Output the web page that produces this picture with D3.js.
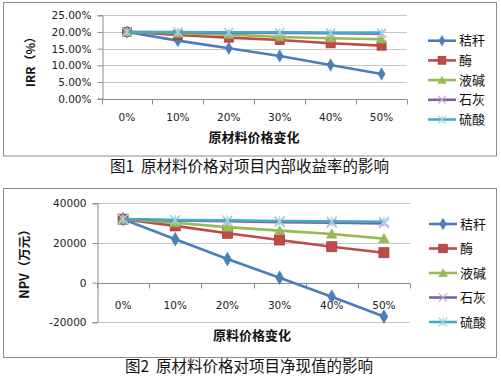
<!DOCTYPE html>
<html><head><meta charset="utf-8">
<script src="https://cdn.jsdelivr.net/npm/d3@7"></script>
<style>body{margin:0;background:#fff}svg{display:block}</style>
</head><body>
<script>
const categories = ["0%","10%","20%","30%","40%","50%"];
const seriesNames = ["秸秆","酶","液碱","石灰","硫酸"];
const irrStraw = [20.0, 17.4, 15.1, 12.8, 10.1, 7.4];
const irrEnzyme = [20.0, 19.1, 18.3, 17.6, 16.6, 15.9];
const irrLye = [20.0, 19.6, 19.2, 18.5, 18.1, 17.8];
const irrLime = [20.0, 19.9, 19.8, 19.7, 19.6, 19.5];
const irrAcid = [20.0, 20.0, 19.9, 19.9, 19.8, 19.8];
const npvStraw = [32000, 21900, 11900, 2500, -7100, -17100];
const npvEnzyme = [32000, 28600, 24900, 21500, 18100, 15100];
const npvLye = [32000, 30200, 28000, 26200, 24500, 22200];
const npvLime = [32000, 31400, 31000, 30500, 30200, 29900];
const npvAcid = [32000, 31600, 31400, 31100, 30900, 30700];
const irrTicks = [0, 5, 10, 15, 20, 25];
const npvTicks = [-20000, 0, 20000, 40000];
const colors = ["#4a7ebb", "#be4b48", "#98b954", "#7d60a0", "#46aac5"];
const markerColors = ["#4a7ebb", "#be4b48", "#98b954", "#b9a6d6", "#9ed5e6"];
const markers = ["diamond", "square", "triangle", "x", "star"];

const W = 501, H = 378;
const svg = d3.select("body").append("svg").attr("width", W).attr("height", H);
const CJK = "'Noto Sans CJK SC', 'Noto Sans', sans-serif";
const NUM = "'DejaVu Sans', sans-serif";

function drawMarker(g, type, x, y, i, s) {
  const c = markerColors[i];
  if (type === "diamond") {
    g.append("path").attr("d", d3.symbol(d3.symbolDiamond, s*s*0.55)())
      .attr("transform", `translate(${x},${y})`).attr("fill", c).attr("stroke", c).attr("stroke-width", 0.5);
  } else if (type === "square") {
    const r = s*0.5;
    g.append("rect").attr("x", x-r).attr("y", y-r).attr("width", 2*r).attr("height", 2*r)
      .attr("fill", "#be4b48").attr("stroke", "#a03c3a").attr("stroke-width", 0.8);
  } else if (type === "triangle") {
    g.append("path").attr("d", d3.symbol(d3.symbolTriangle, s*s*0.5)())
      .attr("transform", `translate(${x},${y+1})`).attr("fill", c).attr("stroke", c).attr("stroke-width", 0.5);
  } else if (type === "x") {
    const r = s*0.48;
    g.append("path").attr("d", `M${x-r},${y-r}L${x+r},${y+r}M${x-r},${y+r}L${x+r},${y-r}`)
      .attr("stroke", c).attr("stroke-width", 1.2).attr("fill", "none");
  } else {
    const r = s*0.5;
    g.append("path").attr("d", `M${x-r},${y-r}L${x+r},${y+r}M${x-r},${y+r}L${x+r},${y-r}M${x},${y-r}L${x},${y+r}`)
      .attr("stroke", c).attr("stroke-width", 1.2).attr("fill", "none");
  }
}

function chart(cfg) {
  const g = svg.append("g");
  g.append("rect").attr("x", cfg.frame[0]).attr("y", cfg.frame[1]).attr("width", cfg.frame[2]).attr("height", cfg.frame[3])
    .attr("fill", "#fff").attr("stroke", "#8c8c8c").attr("stroke-width", 1);
  const x = d3.scaleBand().domain(categories).range([cfg.left, cfg.right]).paddingInner(0).paddingOuter(0);
  const y = d3.scaleLinear().domain(cfg.domain).range([cfg.bottom, cfg.top]);
  g.selectAll(".grid").data(cfg.ticks).join("line")
    .attr("x1", cfg.left).attr("x2", cfg.right)
    .attr("y1", d => Math.round(y(d))+0.5).attr("y2", d => Math.round(y(d))+0.5)
    .attr("stroke", "#c6c6c6").attr("stroke-width", 1);
  const yAxis = d3.axisLeft(y).tickValues(cfg.ticks).tickSize(5).tickPadding(6).tickFormat(cfg.fmt);
  const ya = g.append("g").attr("transform", `translate(${Math.round(cfg.left)+0.5},0)`).call(yAxis);
  ya.select(".domain").attr("stroke", "#8c8c8c");
  ya.selectAll(".tick line").attr("stroke", "#8c8c8c");
  ya.selectAll(".tick text").attr("font-family", NUM).attr("font-size", cfg.tickFs).attr("fill", "#222");
  const y0 = Math.round(y(0))+0.5;
  g.append("line").attr("x1", cfg.left).attr("x2", cfg.right).attr("y1", y0).attr("y2", y0).attr("stroke", "#8c8c8c");
  const bounds = categories.map(c => x(c)).concat([cfg.right]);
  g.selectAll(".xt").data(bounds).join("line")
    .attr("x1", d => Math.round(d)+0.5).attr("x2", d => Math.round(d)+0.5)
    .attr("y1", y0).attr("y2", y0+5).attr("stroke", "#8c8c8c");
  g.selectAll(".xl").data(categories).join("text")
    .attr("x", d => x(d)+x.bandwidth()/2).attr("y", cfg.catY).attr("dy", "0.35em")
    .attr("text-anchor", "middle").attr("font-family", NUM).attr("font-size", cfg.tickFs).attr("fill", "#222")
    .text(d => d);
  cfg.series.forEach((vals, i) => {
    const line = d3.line().x((d, j) => x(categories[j]) + x.bandwidth()/2).y(d => y(d));
    g.append("path").attr("d", line(vals)).attr("fill", "none").attr("stroke", colors[i]).attr("stroke-width", 2.6)
      .attr("stroke-linejoin", "round");
    vals.forEach((v, j) => drawMarker(g, markers[i], x(categories[j]) + x.bandwidth()/2, y(v), i, cfg.ms));
  });
  seriesNames.forEach((n, i) => {
    const ly = cfg.legY + i*cfg.legDy;
    g.append("line").attr("x1", cfg.legX).attr("x2", cfg.legX+28).attr("y1", ly).attr("y2", ly)
      .attr("stroke", colors[i]).attr("stroke-width", 2.6);
    drawMarker(g, markers[i], cfg.legX+14, ly, i, cfg.ms*0.85);
    g.append("text").attr("x", cfg.legX+31).attr("y", ly).attr("dy", "0.36em")
      .attr("font-family", CJK).attr("font-size", 13).attr("fill", "#111").text(n);
  });
  g.append("text").attr("x", cfg.xTitle[0]).attr("y", cfg.xTitle[1]).attr("dy", "0.35em").attr("text-anchor", "middle")
    .attr("font-family", CJK).attr("font-weight", "bold").attr("font-size", 13).attr("fill", "#111").text(cfg.xTitleText);
  g.append("text").attr("transform", `translate(${cfg.yTitle[0]},${cfg.yTitle[1]}) rotate(-90)`).attr("dy", "0.35em")
    .attr("text-anchor", "middle").attr("font-family", CJK).attr("font-weight", "bold").attr("font-size", cfg.yTitleFs)
    .attr("fill", "#111").text(cfg.yTitleText);
  g.append("text").attr("x", cfg.cap[0]).attr("y", cfg.cap[1]).attr("dy", "0.35em")
    .style("white-space", "pre")
    .attr("font-family", CJK).attr("font-size", 15.5).attr("fill", "#111").text(cfg.capText);
}

chart({
  frame: [3.5, 2.5, 493, 153.5], left: 101.5, right: 407, top: 15.3, bottom: 98.7,
  domain: [0, 25], ticks: irrTicks, fmt: d => d.toFixed(2) + "%", tickFs: 10.5,
  catY: 117, series: [irrStraw, irrEnzyme, irrLye, irrLime, irrAcid], ms: 9,
  legX: 428, legY: 40.7, legDy: 19.7,
  xTitle: [254, 137.5], xTitleText: "原材料价格变化",
  yTitle: [31, 59], yTitleText: "IRR（%）", yTitleFs: 12,
  cap: [110, 167], capText: "图1\u00a0\u00a0原材料价格对项目内部收益率的影响"
});
chart({
  frame: [3.5, 188.5, 493, 169], left: 97, right: 410, top: 203.3, bottom: 322.3,
  domain: [-20000, 40000], ticks: npvTicks, fmt: d => d, tickFs: 10.5,
  catY: 305, series: [npvStraw, npvEnzyme, npvLye, npvLime, npvAcid], ms: 10,
  legX: 429, legY: 224, legDy: 24.5,
  xTitle: [252, 335], xTitleText: "原料价格变化",
  yTitle: [25, 261], yTitleText: "NPV（万元）", yTitleFs: 12.5,
  cap: [125, 367], capText: "图2\u00a0\u00a0原材料价格对项目净现值的影响"
});
</script>
</body></html>
